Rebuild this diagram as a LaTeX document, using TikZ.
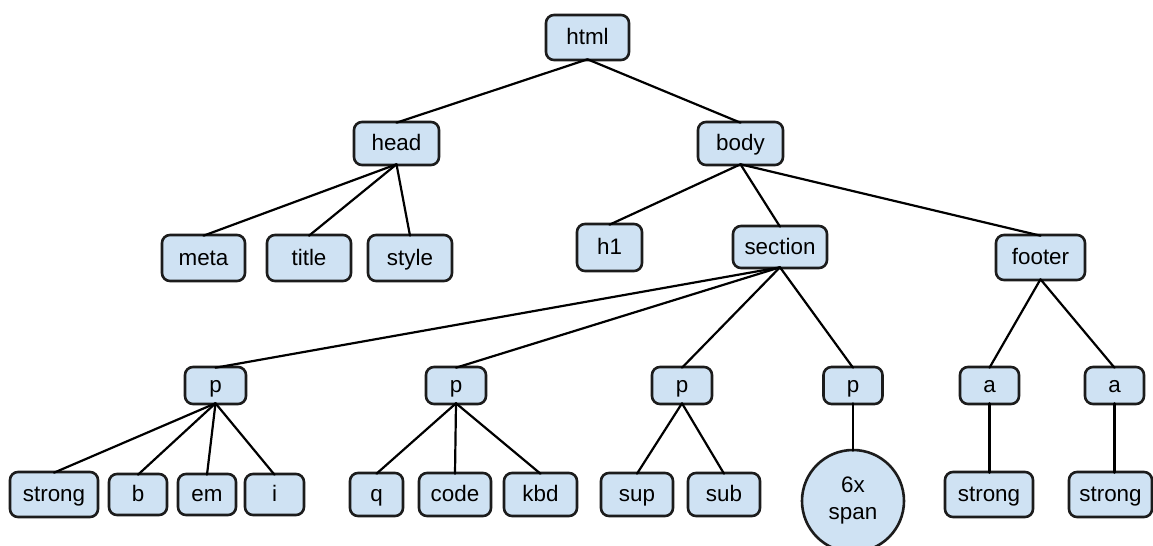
\documentclass[tikz,border=0pt]{standalone}
\usepackage{fontspec}
\setmainfont{Liberation Sans}
\definecolor{boxfill}{HTML}{CFE2F3}
\definecolor{boxline}{HTML}{1C1C1C}
\begin{document}
\begin{tikzpicture}[x=0.5pt,y=-0.5pt,
  bx/.style={draw=boxline,fill=boxfill,line width=1.3pt,rounded corners=4pt,
    inner sep=0pt,text height=8.5pt,text depth=1.5pt,font=\fontsize{11.2}{13}\selectfont},
  circ/.style={draw=boxline,fill=boxfill,line width=1.3pt,circle,inner sep=0pt,
    minimum size=51pt,align=center,font=\fontsize{11.2}{13.5}\selectfont},
  edge/.style={line width=1.1pt,black,line cap=round}]
\useasboundingbox (0,0) rectangle (1153,546);
% level 0
\node[bx,minimum width=41.5pt,minimum height=22.5pt] (html) at (587.5,37.5) {html};
% level 1
\node[bx,minimum width=42.5pt,minimum height=21.5pt] (head) at (396.5,143.5) {head};
\node[bx,minimum width=42.5pt,minimum height=21.5pt] (body) at (740.5,143.5) {body};
% level 2
\node[bx,minimum width=41.5pt,minimum height=23pt] (meta) at (203.5,258) {meta};
\node[bx,minimum width=42pt,minimum height=23pt] (title) at (309,258) {title};
\node[bx,minimum width=42pt,minimum height=23pt] (style) at (410,258) {style};
\node[bx,minimum width=32.5pt,minimum height=23.5pt] (h1) at (609.5,247.5) {h1};
\node[bx,minimum width=47pt,minimum height=21pt] (section) at (780,247) {section};
\node[bx,minimum width=44.5pt,minimum height=22.5pt] (footer) at (1040.5,257.5) {footer};
% level 3
\node[bx,minimum width=30.5pt,minimum height=18.5pt] (p1) at (215.5,385.5) {p};
\node[bx,minimum width=30pt,minimum height=18.5pt] (p2) at (456,385.5) {p};
\node[bx,minimum width=30pt,minimum height=18.5pt] (p3) at (682,385.5) {p};
\node[bx,minimum width=29.5pt,minimum height=18.5pt] (p4) at (853,385.5) {p};
\node[bx,minimum width=29.5pt,minimum height=18.5pt] (a1) at (989.5,385.5) {a};
\node[bx,minimum width=29.5pt,minimum height=18.5pt] (a2) at (1114.5,385.5) {a};
% level 4
\node[bx,minimum width=44pt,minimum height=22.5pt] (strong1) at (54,494.5) {strong};
\node[bx,minimum width=29pt,minimum height=20.5pt] (b) at (138,494.5) {b};
\node[bx,minimum width=29pt,minimum height=20.5pt] (em) at (207,494.5) {em};
\node[bx,minimum width=29.5pt,minimum height=20.5pt] (i) at (274.5,494.5) {i};
\node[bx,minimum width=26.5pt,minimum height=21.5pt] (q) at (376.5,494.5) {q};
\node[bx,minimum width=36pt,minimum height=21.5pt] (code) at (455,494.5) {code};
\node[bx,minimum width=36.5pt,minimum height=21.5pt] (kbd) at (540.5,494.5) {kbd};
\node[bx,minimum width=36pt,minimum height=21.5pt] (sup) at (637,494.5) {sup};
\node[bx,minimum width=36pt,minimum height=21.5pt] (sub) at (724,494.5) {sub};
\node[circ] (span) at (853,501) {6x\\span};
\node[bx,minimum width=44pt,minimum height=22.5pt] (strong2) at (989,494.5) {strong};
\node[bx,minimum width=41.5pt,minimum height=22.5pt] (strong3) at (1110.5,494.5) {strong};
% edges
\foreach \p/\c in {html/head,html/body,head/meta,head/title,head/style,
  body/h1,body/section,body/footer,section/p1,section/p2,section/p3,section/p4,
  footer/a1,footer/a2,p1/strong1,p1/b,p1/em,p1/i,p2/q,p2/code,p2/kbd,p3/sup,p3/sub}
  \draw[edge] ([yshift=1pt]\p.south) -- ([yshift=-1pt]\c.north);
\draw[edge] ([yshift=1pt]p4.south) -- ([yshift=-1pt]span.north);
\draw[edge] ([yshift=1pt]a1.south) -- ([yshift=-1pt]a1.south |- strong2.north);
\draw[edge] ([yshift=1pt]a2.south) -- ([yshift=-1pt]a2.south |- strong3.north);
\end{tikzpicture}
\end{document}
